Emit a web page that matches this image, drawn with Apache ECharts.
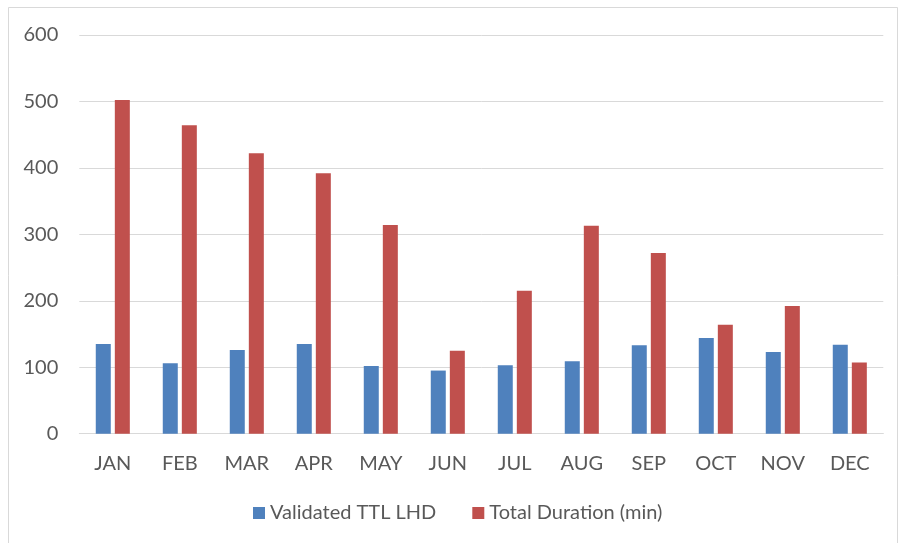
<!DOCTYPE html>
<html>
<head>
<meta charset="utf-8">
<script src="https://cdn.jsdelivr.net/npm/echarts@6/dist/echarts.min.js"></script>
<style>
  html, body { margin: 0; padding: 0; background: #ffffff; }
  #chart { width: 899px; height: 543px; }
</style>
</head>
<body>
<div id="chart"></div>
<script>
// Monthly figures
const months = ['JAN', 'FEB', 'MAR', 'APR', 'MAY', 'JUN', 'JUL', 'AUG', 'SEP', 'OCT', 'NOV', 'DEC'];
const validatedTtlLhd = [135, 106, 126, 135, 102, 95, 103, 109, 133, 144, 123, 134];
const totalDurationMin = [502, 464, 422, 392, 314, 125, 215, 313, 272, 164, 192, 107];
const yTicks = [0, 100, 200, 300, 400, 500, 600];

const textColor = '#595959';
const gridColor = '#d9d9d9';
const fontFamily = 'Lato, "Open Sans", sans-serif';

const chart = echarts.init(document.getElementById('chart'), null, { renderer: 'canvas' });

chart.setOption({
  animation: false,
  backgroundColor: '#ffffff',
  textStyle: { fontFamily: fontFamily },
  graphic: [{
    type: 'rect',
    silent: true,
    shape: { x: 8.5, y: 7.5, width: 889, height: 540 },
    style: { fill: 'none', stroke: gridColor, lineWidth: 1 }
  }],
  grid: { left: 79.3, right: 15.7, top: 35, bottom: 109.3, containLabel: false },
  legend: {
    top: 503,
    left: 253,
    padding: 0,
    itemWidth: 12,
    itemHeight: 12,
    itemGap: 36,
    icon: 'rect',
    textStyle: { color: textColor, fontSize: 20, fontFamily: fontFamily, padding: [0, 0, 0, 0] },
    data: ['Validated TTL LHD', 'Total Duration (min)']
  },
  xAxis: {
    type: 'category',
    data: months,
    axisLine: { show: true, lineStyle: { color: gridColor, width: 1 } },
    axisTick: { show: false },
    axisLabel: { color: textColor, fontSize: 20, margin: 20, fontFamily: fontFamily }
  },
  yAxis: {
    type: 'value',
    min: yTicks[0],
    max: yTicks[yTicks.length - 1],
    interval: 100,
    axisLine: { show: false },
    axisTick: { show: false },
    splitLine: { lineStyle: { color: gridColor, width: 1 } },
    axisLabel: { color: textColor, fontSize: 20, margin: 21, fontFamily: fontFamily }
  },
  series: [
    {
      name: 'Validated TTL LHD',
      type: 'bar',
      data: validatedTtlLhd,
      barWidth: 15,
      barGap: '27%',
      itemStyle: { color: '#4f81bd' }
    },
    {
      name: 'Total Duration (min)',
      type: 'bar',
      data: totalDurationMin,
      barWidth: 15,
      barGap: '27%',
      itemStyle: { color: '#c0504d' }
    }
  ]
});
</script>
</body>
</html>
